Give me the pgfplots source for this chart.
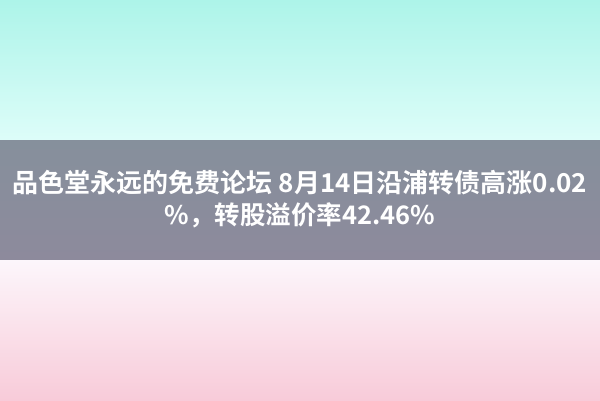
\documentclass[border=0pt]{standalone}
\usepackage{pgfplots}
\pgfplotsset{compat=1.18}
\usepackage{fontspec}
\newfontfamily\cjk[BoldFont={* Bold}]{Noto Sans CJK SC}

\definecolor{tealtop}{HTML}{ADF4E9}
\definecolor{tealbot}{HTML}{DDFDF9}
\definecolor{graytop}{HTML}{86909C}
\definecolor{graybot}{HTML}{8D8A9C}
\definecolor{pinktop}{HTML}{FCF6FB}
\definecolor{pinkbot}{HTML}{F8CBD9}

\begin{document}
\begin{tikzpicture}
\begin{axis}[
  scale only axis,
  width=600bp, height=400bp,
  xmin=0, xmax=600, ymin=0, ymax=400,
  y dir=reverse,
  hide axis,
  clip=true,
]
  % three horizontal bands
  \addplot[draw=none, top color=tealtop, bottom color=tealbot]
    coordinates {(0,0) (600,0) (600,140) (0,140) (0,0)};
  \addplot[draw=none, top color=graytop, bottom color=graybot]
    coordinates {(0,140) (600,140) (600,260) (0,260) (0,140)};
  \addplot[draw=none, top color=pinktop, bottom color=pinkbot]
    coordinates {(0,260) (600,260) (600,400) (0,400) (0,260)};

  \node[white, font=\cjk\bfseries\fontsize{26bp}{30bp}\selectfont, anchor=center]
    at (axis cs:300,183) {品色堂永远的免费论坛 8月14日沿浦转债高涨0.02};
  \node[white, font=\cjk\bfseries\fontsize{25.5bp}{30bp}\selectfont, anchor=center]
    at (axis cs:300,215) {\%，转股溢价率42.46\%};
\end{axis}
\end{tikzpicture}
\end{document}
